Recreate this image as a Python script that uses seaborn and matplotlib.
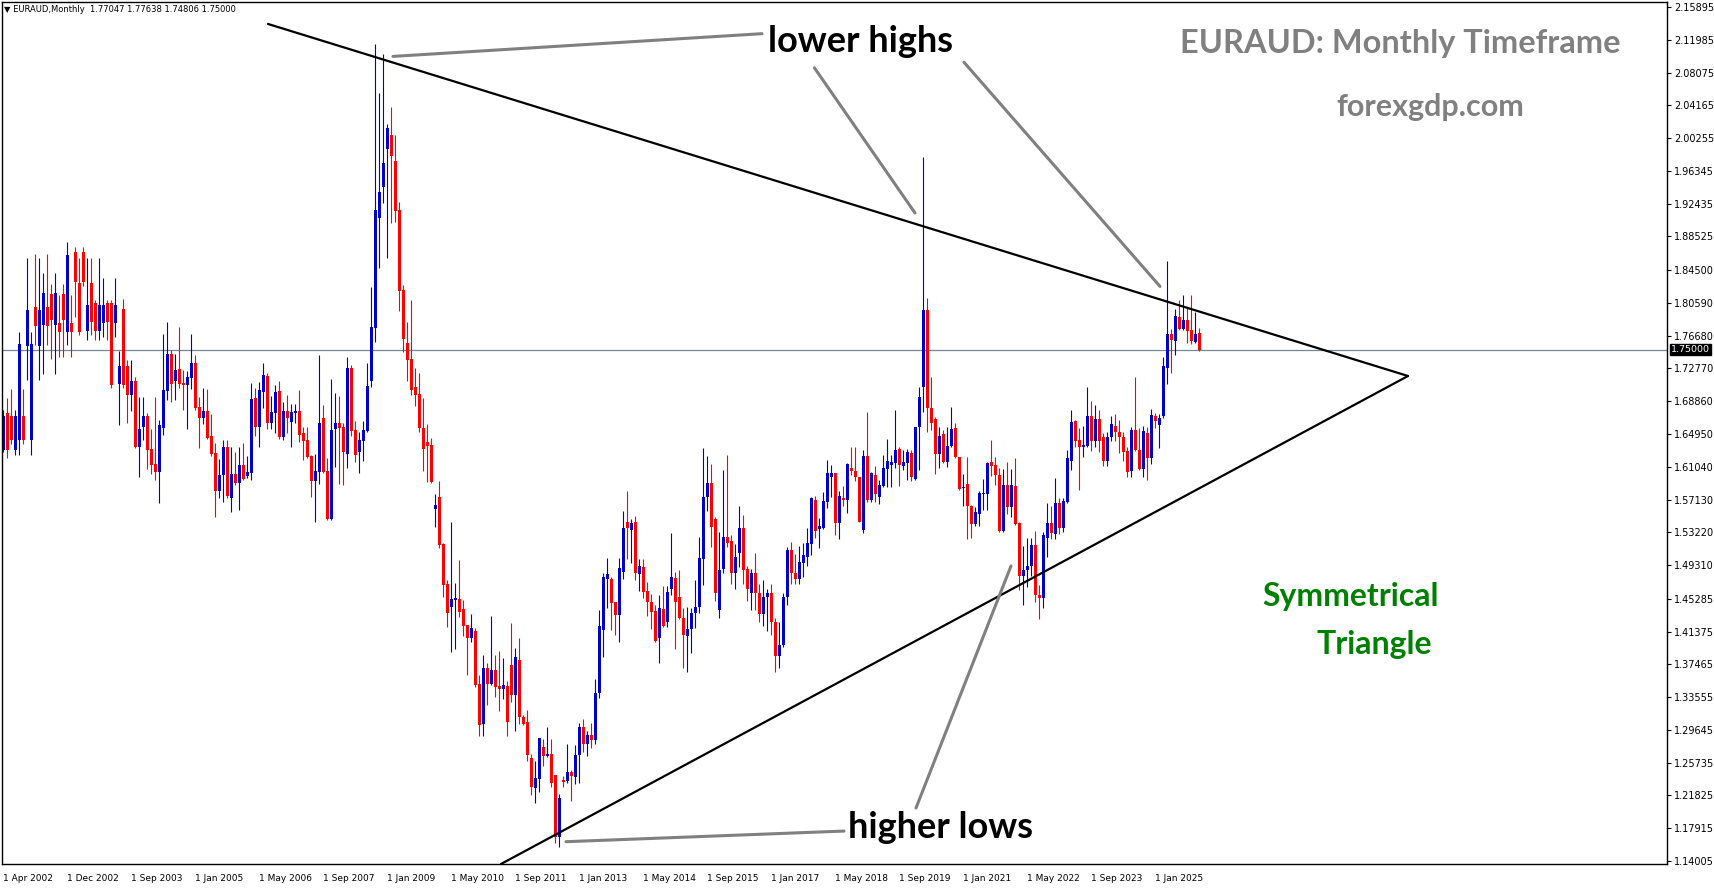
import matplotlib
matplotlib.use("Agg")
import matplotlib.pyplot as plt
import matplotlib.transforms as mtransforms
import seaborn as sns
import numpy as np

# EURAUD monthly candles, Apr 2002 onwards
opens = [
    1.630, 1.675, 1.671, 1.630, 1.642, 1.671, 1.755, 1.642, 1.801, 1.755,
    1.780, 1.801, 1.817, 1.780, 1.782, 1.817, 1.771, 1.782, 1.867, 1.830,
    1.867, 1.7728, 1.8297, 1.8058, 1.7728, 1.7820, 1.8058, 1.8054, 1.7820, 1.7092,
    1.7987, 1.7310, 1.6964, 1.7128, 1.6344, 1.6583, 1.6710, 1.6320, 1.6137, 1.6046,
    1.6571, 1.7012, 1.7454, 1.7131, 1.7271, 1.7108, 1.7080, 1.7167, 1.7338, 1.6821,
    1.6690, 1.6770, 1.6471, 1.6264, 1.5819, 1.6006, 1.6344, 1.5736, 1.6018, 1.5907,
    1.6125, 1.5994, 1.6034, 1.6929, 1.6583, 1.7000, 1.7191, 1.6630, 1.6750, 1.7008,
    1.6459, 1.6774, 1.6642, 1.6750, 1.6774, 1.6503, 1.6424, 1.6237, 1.5938, 1.6046,
    1.6690, 1.6054, 1.5477, 1.6559, 1.6630, 1.6579, 1.6257, 1.7287, 1.6543, 1.6284,
    1.6416, 1.6535, 1.7128, 1.7764, 1.9076, 1.9446, 1.9895, 2.0058, 1.9752, 1.9167,
    1.8213, 1.7585, 1.7390, 1.7060, 1.6972, 1.6571, 1.6404, 1.6364, 1.5604, 1.5747,
    1.5183, 1.4706, 1.4435, 1.4515, 1.4527, 1.4408, 1.4217, 1.4065, 1.4149, 1.3513,
    1.3039, 1.3707, 1.3513, 1.3680, 1.3493, 1.3457, 1.3493, 1.3739, 1.3381, 1.3799,
    1.3123, 1.3059, 1.2630, 1.2276, 1.2383, 1.2761, 1.2658, 1.2678, 1.2431, 1.1691,
    1.2367, 1.2359, 1.2467, 1.2407, 1.2666, 1.3004, 1.2800, 1.2900, 1.2850, 1.3400,
    1.4157, 1.4769, 1.4761, 1.4491, 1.4340, 1.4853, 1.5445, 1.5350, 1.5445, 1.4825,
    1.4912, 1.4622, 1.4491, 1.4387, 1.4058, 1.4407, 1.4256, 1.4646, 1.4773, 1.4554,
    1.4304, 1.4089, 1.4165, 1.4356, 1.4427, 1.5000, 1.5748, 1.5915, 1.5477, 1.4400,
    1.4885, 1.5270, 1.5219, 1.4833, 1.5072, 1.5378, 1.4885, 1.4600, 1.4833, 1.4600,
    1.4350, 1.4550, 1.4600, 1.4250, 1.3850, 1.3980, 1.4550, 1.5111, 1.4841, 1.4761,
    1.4960, 1.5024, 1.5183, 1.5708, 1.5366, 1.5370, 1.5688, 1.5986, 1.6026, 1.5429,
    1.5728, 1.5708, 1.6086, 1.6054, 1.5986, 1.5350, 1.6233, 1.5708, 1.6006, 1.5747,
    1.5879, 1.6078, 1.6125, 1.6153, 1.6312, 1.6117, 1.6153, 1.6264, 1.5954, 1.6575,
    1.7060, 1.7975, 1.6801, 1.6670, 1.6253, 1.6495, 1.6165, 1.6352, 1.6563, 1.6217,
    1.5855, 1.5898, 1.5640, 1.5421, 1.5541, 1.5779, 1.5779, 1.6165, 1.6125, 1.6006,
    1.5338, 1.5887, 1.5628, 1.5875, 1.5437, 1.4800, 1.4870, 1.4925, 1.5171, 1.4570,
    1.4537, 1.5250, 1.5429, 1.5302, 1.5676, 1.5370, 1.5688, 1.6177, 1.6654, 1.6423,
    1.6344, 1.6352, 1.6710, 1.6411, 1.6674, 1.6463, 1.6177, 1.6463, 1.6590, 1.6523,
    1.6463, 1.6292, 1.6058, 1.6543, 1.6304, 1.6074, 1.6511, 1.6205, 1.6714, 1.6602,
    1.6710, 1.7286, 1.7688, 1.7609, 1.7895, 1.7748, 1.7855, 1.7736, 1.7597, 1.77047,
]
highs = [
    1.678, 1.693, 1.703, 1.678, 1.771, 1.703, 1.860, 1.771, 1.864, 1.860,
    1.842, 1.864, 1.829, 1.842, 1.815, 1.829, 1.879, 1.815, 1.873, 1.860,
    1.873, 1.8595, 1.8595, 1.8094, 1.8595, 1.8356, 1.8094, 1.8094, 1.8356, 1.7485,
    1.8106, 1.7378, 1.7378, 1.7179, 1.6937, 1.6941, 1.6742, 1.6559, 1.6937, 1.6662,
    1.7688, 1.7831, 1.7497, 1.7454, 1.7776, 1.7259, 1.7251, 1.7688, 1.7438, 1.6941,
    1.7048, 1.7032, 1.6734, 1.6384, 1.6201, 1.6424, 1.6424, 1.6344, 1.6276, 1.6344,
    1.6392, 1.6233, 1.7108, 1.7040, 1.7116, 1.7342, 1.7219, 1.6949, 1.7076, 1.7128,
    1.6881, 1.6961, 1.6857, 1.6853, 1.7020, 1.6583, 1.6579, 1.6245, 1.6253, 1.7438,
    1.6841, 1.6205, 1.7151, 1.6988, 1.6949, 1.6622, 1.7418, 1.7318, 1.6654, 1.6519,
    1.6654, 1.7346, 1.8249, 2.1148, 2.0563, 2.1029, 2.0190, 2.0392, 2.0058, 1.9267,
    1.8273, 1.7835, 1.8094, 1.7286, 1.7227, 1.6920, 1.6614, 1.6452, 1.5779, 1.5934,
    1.5191, 1.4753, 1.5449, 1.4714, 1.4992, 1.4515, 1.4217, 1.4348, 1.4177, 1.3616,
    1.3859, 1.3767, 1.4324, 1.3859, 1.3910, 1.3827, 1.3549, 1.4244, 1.3942, 1.4062,
    1.3143, 1.3202, 1.2678, 1.2598, 1.2868, 1.2856, 1.3000, 1.2856, 1.2431, 1.2200,
    1.2419, 1.2797, 1.2487, 1.2785, 1.3044, 1.3100, 1.2950, 1.3050, 1.3568, 1.4395,
    1.4841, 1.5020, 1.4793, 1.4491, 1.5020, 1.5581, 1.5815, 1.5481, 1.5517, 1.5004,
    1.5004, 1.4729, 1.4586, 1.4455, 1.4574, 1.4686, 1.4686, 1.5314, 1.4853, 1.4873,
    1.4423, 1.4427, 1.4415, 1.4753, 1.5266, 1.6324, 1.6233, 1.6137, 1.5500, 1.5326,
    1.6066, 1.6245, 1.5290, 1.5183, 1.5636, 1.5529, 1.4920, 1.4885, 1.5072, 1.4700,
    1.4753, 1.4650, 1.4700, 1.4300, 1.4250, 1.4600, 1.5150, 1.5210, 1.5064, 1.5159,
    1.5199, 1.5378, 1.5747, 1.5755, 1.5489, 1.5807, 1.6185, 1.6125, 1.6034, 1.5819,
    1.5875, 1.6153, 1.6344, 1.6344, 1.5986, 1.6304, 1.6762, 1.6046, 1.6113, 1.5946,
    1.6245, 1.6432, 1.6245, 1.6781, 1.6344, 1.6304, 1.6312, 1.6304, 1.6583, 1.7052,
    1.9796, 1.8114, 1.7179, 1.6694, 1.6583, 1.6543, 1.6575, 1.6813, 1.6622, 1.6217,
    1.6018, 1.6225, 1.5648, 1.5620, 1.5819, 1.5962, 1.6161, 1.6423, 1.6225, 1.6086,
    1.6082, 1.6161, 1.6082, 1.6205, 1.5445, 1.5160, 1.5250, 1.5250, 1.5340, 1.4690,
    1.5330, 1.5668, 1.5640, 1.5966, 1.5728, 1.5736, 1.6304, 1.6781, 1.6662, 1.6563,
    1.6590, 1.7060, 1.6889, 1.6841, 1.6781, 1.6511, 1.6523, 1.6714, 1.6738, 1.6662,
    1.6523, 1.6344, 1.6582, 1.7179, 1.6563, 1.6590, 1.6575, 1.6789, 1.6742, 1.6734,
    1.7418, 1.8559, 1.7744, 1.7982, 1.8094, 1.8154, 1.7994, 1.8154, 1.7955, 1.77638,
]
lows = [
    1.628, 1.621, 1.638, 1.624, 1.624, 1.638, 1.714, 1.624, 1.756, 1.714,
    1.721, 1.756, 1.739, 1.721, 1.741, 1.741, 1.756, 1.741, 1.789, 1.768,
    1.826, 1.7617, 1.7676, 1.7617, 1.7617, 1.7649, 1.7617, 1.7048, 1.7649, 1.6606,
    1.7048, 1.6630, 1.6774, 1.6324, 1.5986, 1.6424, 1.6082, 1.6018, 1.5946, 1.5668,
    1.6483, 1.6901, 1.6881, 1.6901, 1.7040, 1.6782, 1.6559, 1.7036, 1.6782, 1.6332,
    1.6610, 1.6432, 1.6237, 1.5509, 1.5728, 1.5688, 1.5736, 1.5569, 1.5887, 1.5589,
    1.5946, 1.5970, 1.5946, 1.6475, 1.6344, 1.6801, 1.6551, 1.6559, 1.6503, 1.6439,
    1.6424, 1.6503, 1.6344, 1.6630, 1.6400, 1.6185, 1.6205, 1.5747, 1.5449, 1.5899,
    1.6026, 1.5469, 1.5469, 1.6105, 1.5903, 1.5887, 1.6094, 1.6475, 1.6165, 1.6026,
    1.6177, 1.6523, 1.7060, 1.7597, 1.8479, 1.9247, 1.8599, 1.9008, 1.9028, 1.7967,
    1.7477, 1.7127, 1.6960, 1.6829, 1.6523, 1.6058, 1.5922, 1.5906, 1.5390, 1.5130,
    1.4554, 1.4197, 1.3898, 1.3934, 1.4308, 1.4085, 1.3620, 1.4018, 1.3481, 1.2896,
    1.2896, 1.3262, 1.3500, 1.3361, 1.3194, 1.3334, 1.2896, 1.3300, 1.2956, 1.3035,
    1.3024, 1.2598, 1.2192, 1.2097, 1.2228, 1.2538, 1.2638, 1.2288, 1.1612, 1.1572,
    1.2288, 1.2335, 1.2121, 1.2316, 1.2328, 1.2700, 1.2650, 1.2750, 1.2800, 1.3350,
    1.3839, 1.4415, 1.4157, 1.4097, 1.4018, 1.4769, 1.5008, 1.4960, 1.4753, 1.4626,
    1.4542, 1.4328, 1.4169, 1.4010, 1.3767, 1.4196, 1.4196, 1.4574, 1.3930, 1.4288,
    1.3700, 1.3652, 1.3886, 1.4177, 1.4364, 1.4694, 1.5581, 1.5143, 1.4500, 1.4300,
    1.4833, 1.5143, 1.4700, 1.4650, 1.4912, 1.4700, 1.4500, 1.4400, 1.4400, 1.4250,
    1.4200, 1.4150, 1.4100, 1.3650, 1.3700, 1.3950, 1.4450, 1.4700, 1.4700, 1.4700,
    1.4785, 1.4920, 1.5052, 1.5258, 1.5131, 1.5358, 1.5608, 1.5747, 1.5290, 1.5243,
    1.5636, 1.5557, 1.6006, 1.5938, 1.5449, 1.5318, 1.5680, 1.5688, 1.5688, 1.5660,
    1.5867, 1.5867, 1.5867, 1.6086, 1.5879, 1.6066, 1.5946, 1.5938, 1.5946, 1.6066,
    1.6762, 1.6523, 1.6543, 1.6014, 1.6086, 1.6153, 1.6106, 1.6336, 1.6205, 1.5827,
    1.5636, 1.5238, 1.5250, 1.5397, 1.5397, 1.5588, 1.5588, 1.5994, 1.5887, 1.5330,
    1.5330, 1.5541, 1.5509, 1.5409, 1.4635, 1.4455, 1.4670, 1.4800, 1.4485, 1.4283,
    1.4420, 1.5032, 1.5238, 1.5238, 1.5302, 1.5330, 1.5668, 1.6066, 1.6344, 1.5827,
    1.6217, 1.6344, 1.6292, 1.6344, 1.6284, 1.6113, 1.6113, 1.6415, 1.6411, 1.6265,
    1.6177, 1.5978, 1.5978, 1.6296, 1.6066, 1.5986, 1.5946, 1.6133, 1.6563, 1.6332,
    1.6682, 1.7092, 1.7227, 1.7438, 1.7736, 1.7736, 1.7585, 1.7569, 1.7577, 1.74806,
]
closes = [
    1.671, 1.630, 1.642, 1.671, 1.757, 1.642, 1.798, 1.757, 1.778, 1.798,
    1.818, 1.778, 1.786, 1.818, 1.771, 1.786, 1.863, 1.771, 1.831, 1.771,
    1.831, 1.8034, 1.7831, 1.7728, 1.8034, 1.8034, 1.7831, 1.7080, 1.8034, 1.7310,
    1.7080, 1.6964, 1.7128, 1.6344, 1.6555, 1.6710, 1.6304, 1.6125, 1.6046, 1.6599,
    1.7020, 1.7454, 1.7096, 1.7259, 1.7096, 1.7080, 1.7179, 1.7338, 1.6809, 1.6690,
    1.6770, 1.6443, 1.6257, 1.5819, 1.6006, 1.6344, 1.5756, 1.6018, 1.5907, 1.6125,
    1.5954, 1.6046, 1.6913, 1.6583, 1.7020, 1.7199, 1.6630, 1.6762, 1.7000, 1.6459,
    1.6774, 1.6690, 1.6762, 1.6774, 1.6483, 1.6416, 1.6225, 1.5938, 1.6054, 1.6630,
    1.6046, 1.5477, 1.6543, 1.6630, 1.6567, 1.6276, 1.7287, 1.6535, 1.6245, 1.6424,
    1.6543, 1.7068, 1.7772, 1.9167, 1.9378, 1.9724, 2.0142, 1.9812, 1.9159, 1.8205,
    1.7628, 1.7378, 1.7020, 1.6960, 1.6571, 1.6316, 1.6356, 1.5926, 1.5652, 1.5171,
    1.4698, 1.4364, 1.4527, 1.4543, 1.4376, 1.4209, 1.4065, 1.4181, 1.3501, 1.3027,
    1.3707, 1.3513, 1.3680, 1.3481, 1.3457, 1.3501, 1.3063, 1.3385, 1.3835, 1.3123,
    1.3035, 1.2665, 1.2288, 1.2391, 1.2868, 1.2658, 1.2678, 1.2335, 1.1691, 1.2152,
    1.2347, 1.2467, 1.2419, 1.2666, 1.3004, 1.2800, 1.2900, 1.2850, 1.3400, 1.4204,
    1.4789, 1.4825, 1.4483, 1.4336, 1.4896, 1.5374, 1.5374, 1.5429, 1.4841, 1.4920,
    1.4614, 1.4487, 1.4376, 1.4026, 1.4415, 1.4208, 1.4610, 1.4789, 1.4495, 1.4304,
    1.4097, 1.4169, 1.4356, 1.4427, 1.5020, 1.5744, 1.5915, 1.5390, 1.4600, 1.4873,
    1.5270, 1.5199, 1.4833, 1.5032, 1.5378, 1.4873, 1.4650, 1.4833, 1.4600, 1.4350,
    1.4550, 1.4600, 1.4250, 1.3850, 1.3980, 1.4550, 1.5111, 1.4833, 1.4761, 1.4972,
    1.5052, 1.5199, 1.5728, 1.5342, 1.5398, 1.5700, 1.6034, 1.6034, 1.5429, 1.5755,
    1.5708, 1.6137, 1.6054, 1.5978, 1.5449, 1.6233, 1.5708, 1.6026, 1.5779, 1.5887,
    1.6086, 1.6173, 1.6161, 1.6304, 1.6125, 1.6165, 1.6277, 1.5978, 1.6575, 1.6933,
    1.7975, 1.6801, 1.6630, 1.6253, 1.6471, 1.6165, 1.6352, 1.6551, 1.6217, 1.5843,
    1.5859, 1.5640, 1.5417, 1.5560, 1.5795, 1.5795, 1.6153, 1.6113, 1.6006, 1.5338,
    1.5887, 1.5628, 1.5887, 1.5421, 1.4800, 1.4870, 1.4925, 1.5171, 1.4570, 1.4537,
    1.5290, 1.5429, 1.5310, 1.5676, 1.5370, 1.5700, 1.6205, 1.6642, 1.6411, 1.6344,
    1.6364, 1.6710, 1.6411, 1.6674, 1.6415, 1.6177, 1.6463, 1.6614, 1.6523, 1.6463,
    1.6284, 1.6046, 1.6543, 1.6304, 1.6074, 1.6531, 1.6205, 1.6722, 1.6654, 1.6682,
    1.7306, 1.7688, 1.7617, 1.7903, 1.7748, 1.7855, 1.7728, 1.7609, 1.7688, 1.75000,
]

date_labels = ["1 Apr 2002", "1 Dec 2002", "1 Sep 2003", "1 Jan 2005", "1 May 2006",
               "1 Sep 2007", "1 Jan 2009", "1 May 2010", "1 Sep 2011", "1 Jan 2013",
               "1 May 2014", "1 Sep 2015", "1 Jan 2017", "1 May 2018", "1 Sep 2019",
               "1 Jan 2021", "1 May 2022", "1 Sep 2023", "1 Jan 2025"]
price_ticks = [2.15895, 2.11985, 2.08075, 2.04165, 2.00255, 1.96345, 1.92435, 1.88525,
               1.84500, 1.80590, 1.76680, 1.72770, 1.68860, 1.64950, 1.61040, 1.57130,
               1.53220, 1.49310, 1.45285, 1.41375, 1.37465, 1.33555, 1.29645, 1.25735,
               1.21825, 1.17915, 1.14005]
last_price = 1.75000

# trend lines and pointer lines (bar index, price)
upper_line = ([66.25, 351.25], [2.1387, 1.7187])
lower_line = ([124.5, 351.25], [1.1365, 1.7187])
high_pointers = [([97.5, 189.75], [2.1000, 2.1271]),
                 ([202.85, 228.0], [2.0864, 1.9132]),
                 ([240.25, 289.25], [2.0930, 1.8256])]
low_pointers = [([140.75, 210.25], [1.1631, 1.1758]),
                ([228.25, 252.0], [1.2033, 1.4920])]

sns.set_style("white")
plt.rcParams['font.family'] = ['DejaVu Sans']

W, H = 1714, 888
fig = plt.figure(figsize=(W / 100, H / 100), dpi=100)
ax = fig.add_axes([2 / W, 1 - 864 / H, (1667 - 2) / W, (864 - 2) / H])

o = np.array(opens)
c = np.array(closes)
hi = np.array(highs)
lo = np.array(lows)
idx = np.arange(len(o))
up = c >= o
cols = np.where(up, "#0000cd", "#ff0000")

ax.vlines(idx, lo, hi, colors=cols, linewidth=0.8)
body = np.maximum(np.abs(c - o), 0.0013)
ax.bar(idx, body, bottom=np.minimum(o, c), width=0.75, color=cols, linewidth=0)

# current price line
ax.axhline(last_price, color="#778899", linewidth=0.9, zorder=0)

# triangle
for xs, ys in [upper_line, lower_line]:
    sns.lineplot(x=xs, y=ys, ax=ax, color="black", linewidth=1.6, estimator=None, sort=False)
for xs, ys in high_pointers + low_pointers:
    sns.lineplot(x=xs, y=ys, ax=ax, color="#808080", linewidth=2.2, estimator=None, sort=False)

ax.set_xlim(-0.25, 416)
ax.set_ylim(1.1365, 2.1649)

# annotations
ax.text(214.5, 2.1178, "lower highs", fontsize=26, family="Lato", fontweight="bold",
        ha="center", va="center", color="black")
ax.text(234.25, 1.1801, "higher lows", fontsize=26, family="Lato", fontweight="bold",
        ha="center", va="center", color="black")
ax.text(349.25, 2.1152, "EURAUD: Monthly Timeframe", fontsize=23.4, family="Lato",
        fontweight="bold", ha="center", va="center", color="#808080")
ax.text(356.75, 2.0396, "forexgdp.com", fontsize=22, family="Lato",
        fontweight="bold", ha="center", va="center", color="#808080")
ax.text(337.0, 1.4562, "Symmetrical", fontsize=23, family="Lato",
        fontweight="bold", ha="center", va="center", color="#008000")
ax.text(342.75, 1.3985, "Triangle", fontsize=23, family="Lato",
        fontweight="bold", ha="center", va="center", color="#008000")

# axes styling (terminal look)
for s in ax.spines.values():
    s.set_color("black")
    s.set_linewidth(1)
ax.yaxis.tick_right()
ax.set_yticks(price_ticks)
ax.set_yticklabels([f"{v:.5f}" for v in price_ticks])
ax.tick_params(axis="y", direction="out", length=3, width=0.8, pad=2, labelsize=7,
               colors="black")
ax.set_xticks(np.arange(0, 16 * len(date_labels), 16))
ax.set_xticklabels(date_labels)
ax.tick_params(axis="x", direction="out", length=4, width=0.8, pad=3, labelsize=6.5,
               colors="black")
for lbl in ax.get_xticklabels():
    lbl.set_horizontalalignment("left")
ax.grid(False)

# price tag on the scale
trans = mtransforms.blended_transform_factory(ax.transAxes, ax.transData)
ax.text(1.0025, last_price, f"{last_price:.5f}", transform=trans, fontsize=6.8,
        color="white", va="center", ha="left",
        bbox=dict(boxstyle="square,pad=0.12", facecolor="black", edgecolor="black"))

fig.text(4 / W, 1 - 10 / H, "\u25bc EURAUD,Monthly  1.77047 1.77638 1.74806 1.75000",
         fontsize=6, va="center", ha="left", color="black")

fig.savefig("out.png", dpi=100, facecolor="white")
